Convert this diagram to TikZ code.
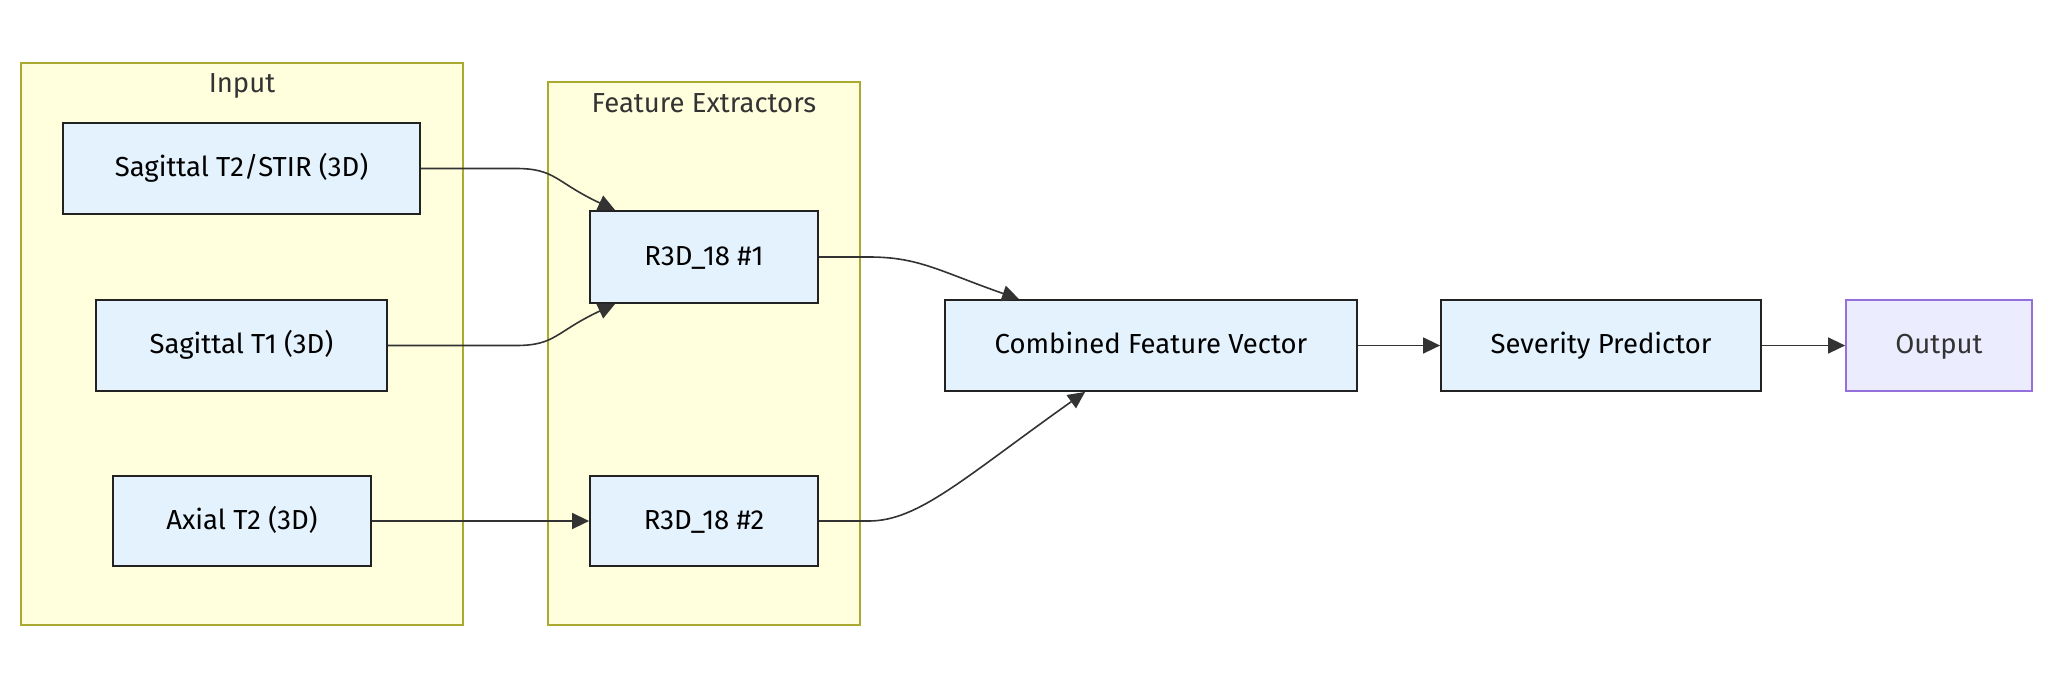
\documentclass[tikz,border=0pt]{standalone}
\usepackage{fontspec}
\setmainfont{Fira Sans}
\usetikzlibrary{arrows.meta,calc}
\definecolor{nodefill}{HTML}{E3F2FD}
\definecolor{nodeline}{HTML}{222222}
\definecolor{clfill}{HTML}{FFFFDE}
\definecolor{clline}{HTML}{AAAA33}
\definecolor{outfill}{HTML}{ECECFF}
\definecolor{outline}{HTML}{9370DB}
\definecolor{edge}{HTML}{333333}
\definecolor{txt}{HTML}{333333}
\tikzset{
  box/.style={draw=nodeline, fill=nodefill, line width=1.8pt, inner sep=0pt,
    font=\fontsize{27.5}{32}\selectfont, text=black, text height=19pt, text depth=3pt},
  outbox/.style={draw=outline, fill=outfill, line width=1.8pt, inner sep=0pt,
    font=\fontsize{27.5}{32}\selectfont, text=txt, text height=19pt, text depth=3pt},
  cluster/.style={draw=clline, fill=clfill, line width=1.8pt},
  cltitle/.style={font=\fontsize{27.5}{32}\selectfont, text=txt},
  conn/.style={draw=edge, line width=1.6pt, -{Triangle[length=17pt,width=16pt]}}
}
\begin{document}
\begin{tikzpicture}[x=1pt,y=-1pt]
\useasboundingbox[fill=white] (0,0) rectangle (2056,691);
% clusters
\draw[cluster] (21,63) rectangle (463,625);
\node[cltitle] (tin) at (242,86) {Input};
\draw[cluster] (548,82) rectangle (860,625);
\node[cltitle] (tfe) at (704,103) {Feature Extractors};
% nodes
\node[box, minimum width=357pt, minimum height=91pt] (sag2) at (241.5,168.5) {Sagittal T2/STIR (3D)};
\node[box, minimum width=291pt, minimum height=91pt] (sag1) at (241.5,345.5) {Sagittal T1 (3D)};
\node[box, minimum width=258pt, minimum height=90pt] (ax) at (242,521) {Axial T2 (3D)};
\node[box, minimum width=228pt, minimum height=92pt] (r1) at (704,257) {R3D\_18 \#1};
\node[box, minimum width=228pt, minimum height=90pt] (r2) at (704,521) {R3D\_18 \#2};
\node[box, minimum width=412pt, minimum height=91pt] (comb) at (1151,345.5) {Combined Feature Vector};
\node[box, minimum width=320pt, minimum height=91pt] (sev) at (1601,345.5) {Severity Predictor};
\node[outbox, minimum width=186pt, minimum height=91pt] (out) at (1939,345.5) {Output};
% edges
\coordinate (r1t) at ($(r1.north west)+(26,0)$);
\coordinate (r1b) at ($(r1.south west)+(26,0)$);
\coordinate (cbt) at ($(comb.north west)+(75,0)$);
\coordinate (cbb) at ($(comb.south west)+(141,0)$);
\draw[conn] (sag2.east) -- ($(sag2.east)+(95,0)$) .. controls ($(sag2.east)+(135,0)$) and ($(r1t)+(-60,-28)$) .. (r1t);
\draw[conn] (sag1.east) -- ($(sag1.east)+(128,0)$) .. controls ($(sag1.east)+(168,0)$) and ($(r1b)+(-60,28)$) .. (r1b);
\draw[conn] (ax.east) -- (r2.west);
\draw[conn] (r1.east) -- ($(r1.east)+(50,0)$) .. controls ($(r1.east)+(100,0)$) and ($(cbt)+(-80,-28)$) .. (cbt);
\draw[conn] (r2.east) -- ($(r2.east)+(50,0)$) .. controls ($(r2.east)+(100,0)$) and ($(cbb)+(-120,85)$) .. (cbb);
\draw[conn] (comb.east) -- (sev.west);
\draw[conn] (sev.east) -- (out.west);
\end{tikzpicture}
\end{document}
